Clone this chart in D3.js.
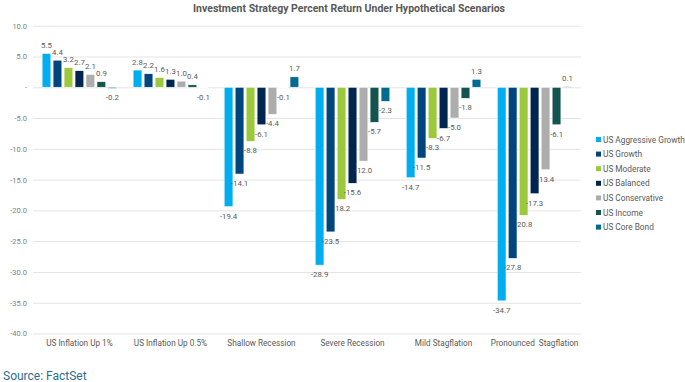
<!DOCTYPE html>
<html><head><meta charset="utf-8">
<script src="https://cdn.jsdelivr.net/npm/d3@7"></script>
<style>
body{margin:0;background:#fff;}
svg{display:block;font-family:Roboto, "Liberation Sans", sans-serif;}
</style></head>
<body><svg id="c" width="685" height="382"></svg>
<script>
const categories = ["US Inflation Up 1%","US Inflation Up 0.5%","Shallow Recession","Severe Recession","Mild Stagflation","Pronounced  Stagflation"];
const seriesNames = ["US Aggressive Growth","US Growth","US Moderate","US Balanced","US Conservative","US Income","US Core Bond"];
const seriesColors = ["#00AEEF","#00457C","#9BC93B","#00264F","#ADADAD","#13544E","#006A90"];
const aggressiveGrowth = [5.5, 2.8, -19.4, -28.9, -14.7, -34.7];
const growth           = [4.4, 2.2, -14.1, -23.5, -11.5, -27.8];
const moderate         = [3.2, 1.6, -8.8, -18.2, -8.3, -20.8];
const balanced         = [2.7, 1.3, -6.1, -15.6, -6.7, -17.3];
const conservative     = [2.1, 1.0, -4.4, -12.0, -5.0, -13.4];
const income           = [0.9, 0.4, -0.1, -5.7, -1.8, -6.1];
const coreBond         = [-0.2, -0.1, 1.7, -2.3, 1.3, 0.1];
const yTicks = [10, 5, 0, -5, -10, -15, -20, -25, -30, -35, -40];

const seriesValues = [aggressiveGrowth, growth, moderate, balanced, conservative, income, coreBond];
const fmt = v => v.toFixed(1);

const svg = d3.select("#c");
const mLeft = 33, mRight = 581, mTop = 25.7, mBottom = 333.5;

const y = d3.scaleLinear().domain([-40, 10]).range([mBottom, mTop]);
const x0 = d3.scaleBand().domain(categories).range([mLeft, mRight]).paddingInner(0.18).paddingOuter(0.1);
const x1 = d3.scaleBand().domain(seriesNames).range([0, x0.bandwidth()]).paddingInner(0.2);
const color = d3.scaleOrdinal().domain(seriesNames).range(seriesColors);

// title
svg.append("text").attr("x", 349).attr("y", 11.5).attr("text-anchor", "middle")
  .attr("font-size", 10.5).attr("font-weight", 700).attr("fill", "#595959")
  .attr("textLength", 312).attr("lengthAdjust", "spacingAndGlyphs")
  .text("Investment Strategy Percent Return Under Hypothetical Scenarios");

// y axis grid + labels
const yAxis = d3.axisLeft(y).tickValues(yTicks).tickSize(-(mRight - mLeft)).tickPadding(6)
  .tickFormat(d => d === 0 ? "-" : fmt(d));
const gy = svg.append("g").attr("transform", `translate(${mLeft},0)`).call(yAxis);
gy.select(".domain").remove();
gy.selectAll(".tick line").attr("stroke", "#e4e4e4").attr("stroke-width", 1);
gy.selectAll(".tick text").attr("fill", "#7f7f7f").attr("font-size", 7.5)
  .attr("font-family", "Roboto, sans-serif");

// x axis labels
const xAxis = d3.axisBottom(x0).tickSize(0).tickPadding(7);
const gx = svg.append("g").attr("transform", `translate(0,${mBottom})`).call(xAxis);
gx.select(".domain").remove();
gx.selectAll(".tick text").attr("fill", "#595959").attr("font-size", 8.2)
  .attr("font-family", "Roboto, sans-serif").style("white-space", "pre");

// bars
const rows = categories.map((c, i) => ({cat: c, vals: seriesNames.map((s, j) => ({s, v: seriesValues[j][i]}))}));
const g = svg.append("g").selectAll("g").data(rows).join("g")
  .attr("transform", d => `translate(${x0(d.cat)},0)`);
g.selectAll("rect").data(d => d.vals).join("rect")
  .attr("x", d => x1(d.s)).attr("width", x1.bandwidth())
  .attr("y", d => y(Math.max(0, d.v))).attr("height", d => Math.abs(y(d.v) - y(0)))
  .attr("fill", d => color(d.s)).attr("stroke", "#ffffff").attr("stroke-width", 0.6);
g.selectAll("text").data(d => d.vals).join("text")
  .attr("x", d => x1(d.s) + x1.bandwidth() / 2)
  .attr("y", d => d.v >= 0 ? y(d.v) - 5.5 : y(d.v) + 12)
  .attr("text-anchor", "middle").attr("font-size", 7.8).attr("fill", "#595959")
  .text(d => fmt(d.v));

// legend
const lg = svg.append("g").selectAll("g").data(seriesNames).join("g")
  .attr("transform", (d, i) => `translate(596,${139.5 + i * 14.6})`);
lg.append("rect").attr("x", 0).attr("y", -2.5).attr("width", 5).attr("height", 5).attr("fill", d => color(d));
lg.append("text").attr("x", 7).attr("y", 3).attr("font-size", 8.3).attr("fill", "#595959").text(d => d);

// source
svg.append("text").attr("x", 3).attr("y", 380).attr("font-size", 12).attr("fill", "#2C6E8E")
  .text("Source: FactSet");
</script></body></html>
